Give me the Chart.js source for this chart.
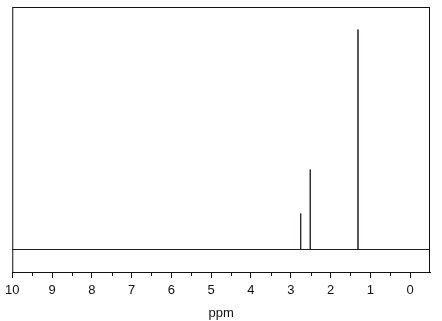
<!DOCTYPE html>
<html>
<head>
<meta charset="utf-8">
<script src="https://cdn.jsdelivr.net/npm/chart.js@4/dist/chart.umd.min.js"></script>
<style>
  html, body { margin: 0; padding: 0; background: #fff; }
  #wrap { width: 442px; height: 321px; }
</style>
</head>
<body>
<div id="wrap"><canvas id="spec"></canvas></div>
<script>
// peaks of the spectrum (ppm, relative height)
const peakPpm = [2.75, 2.51, 1.31];
const peakHeight = [36, 80, 220];
const ppmMax = 10;
const ppmMin = -0.5;
const xTickValues = [10, 9, 8, 7, 6, 5, 4, 3, 2, 1, 0];
const xTitle = 'ppm';

// build the stick spectrum: baseline with vertical lines at each peak
const points = [{ x: ppmMax, y: 0 }];
peakPpm.forEach((p, i) => {
  points.push({ x: p, y: 0 }, { x: p, y: peakHeight[i] }, { x: p, y: 0 });
});
points.push({ x: ppmMin, y: 0 });

// frame around the plot + minor ticks at half units
const framePlugin = {
  id: 'frame',
  afterDraw(chart) {
    const { ctx, chartArea: a } = chart;
    const xs = chart.scales.x;
    ctx.save();
    ctx.strokeStyle = '#111';
    ctx.lineWidth = 1;
    ctx.strokeRect(a.left + 0.5, a.top + 0.5, a.right - a.left - 1, a.bottom - a.top);
    ctx.beginPath();
    for (let v = ppmMax - 0.5; v > ppmMin; v -= 0.5) {
      if (Number.isInteger(v)) continue;
      const px = Math.round(xs.getPixelForValue(v)) + 0.5;
      ctx.moveTo(px, a.bottom);
      ctx.lineTo(px, a.bottom + 4);
    }
    ctx.stroke();
    ctx.restore();
  }
};

new Chart(document.getElementById('spec').getContext('2d'), {
  type: 'line',
  data: {
    datasets: [{
      data: points,
      borderColor: '#2a1c1c',
      borderWidth: 1,
      pointRadius: 0,
      tension: 0,
      fill: false
    }]
  },
  options: {
    responsive: true,
    maintainAspectRatio: false,
    animation: false,
    layout: { padding: { left: 12, right: 12, top: 7, bottom: 0 } },
    plugins: {
      legend: { display: false },
      tooltip: { enabled: false }
    },
    scales: {
      x: {
        type: 'linear',
        reverse: true,
        min: ppmMin,
        max: ppmMax,
        afterBuildTicks: s => { s.ticks = xTickValues.map(v => ({ value: v })); },
        afterFit: s => { s.height = 49; },
        grid: { drawOnChartArea: false, tickLength: 6, color: '#111', tickColor: '#111' },
        border: { display: true, color: '#111' },
        ticks: {
          color: '#111',
          padding: 5,
          maxRotation: 0,
          autoSkip: false,
          font: { family: 'Arial, "Liberation Sans", sans-serif', size: 13 }
        },
        title: {
          display: true,
          text: xTitle,
          color: '#111',
          padding: { top: 4, bottom: 0 },
          font: { family: 'Arial, "Liberation Sans", sans-serif', size: 13 }
        }
      },
      y: {
        display: false,
        min: -22.5,
        max: 242.5
      }
    }
  },
  plugins: [framePlugin]
});
</script>
</body>
</html>
